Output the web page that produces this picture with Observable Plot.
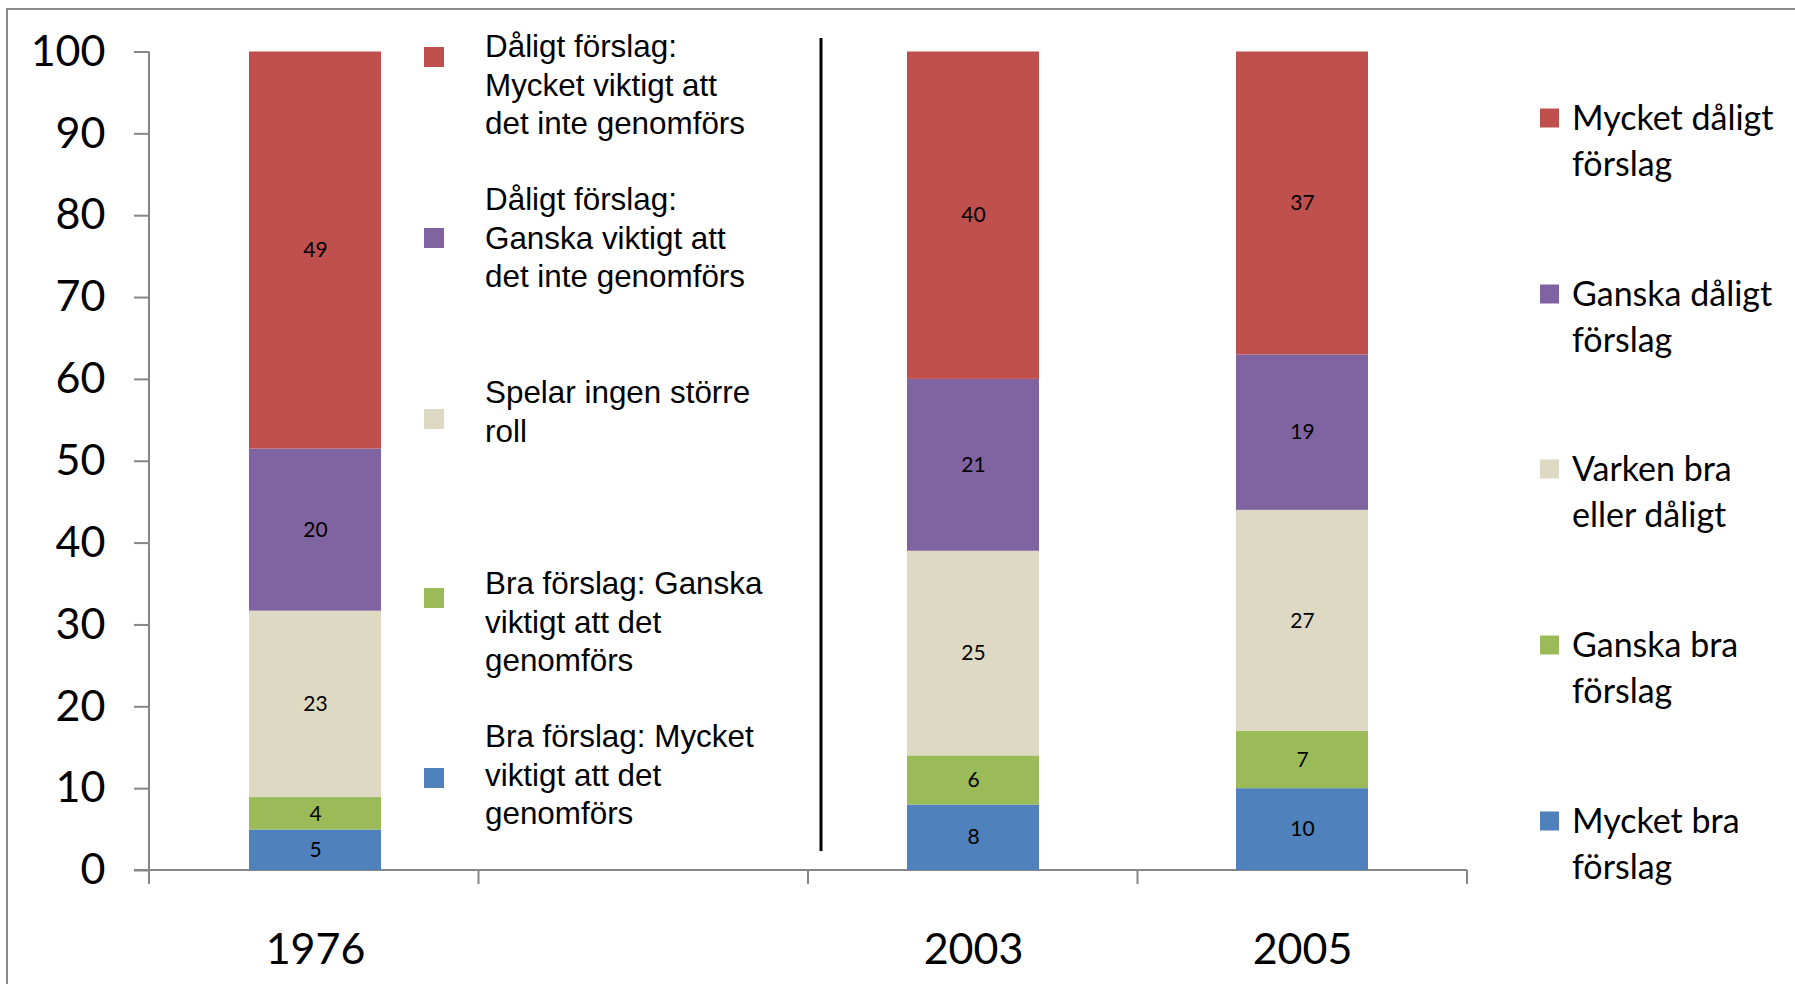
<!DOCTYPE html>
<html><head><meta charset="utf-8">
<script src="https://cdn.jsdelivr.net/npm/d3@7"></script>
<script src="https://cdn.jsdelivr.net/npm/@observablehq/plot@0.6"></script>
<style>
html,body{margin:0;padding:0;background:#fff;}
#chart{position:relative;width:1795px;height:984px;overflow:hidden;}
#chart svg g[aria-label="y-axis tick"]{stroke:#868686;stroke-width:2px;}
</style></head><body><div id="chart"></div>
<script>
// ---- data ----
const years = ["1976", "gap", "2003", "2005"];
const seriesKeys = ["Mycket bra förslag", "Ganska bra förslag", "Varken bra eller dåligt", "Ganska dåligt förslag", "Mycket dåligt förslag"]; // bottom to top
const seriesColors = ["#4F81BD", "#9BBB59", "#DDD9C3", "#8064A2", "#C0504D"];
const values1976 = [5, 4, 23, 20, 49];
const values2003 = [8, 6, 25, 21, 40];
const values2005 = [10, 7, 27, 19, 37];
const yTickLabels = [0, 10, 20, 30, 40, 50, 60, 70, 80, 90, 100];
// legend texts, top to bottom (red, purple, beige, green, blue)
const leftLegendLines = [
  ["Dåligt förslag:", "Mycket viktigt att", "det inte genomförs"],
  ["Dåligt förslag:", "Ganska viktigt att", "det inte genomförs"],
  ["Spelar ingen större", "roll"],
  ["Bra förslag: Ganska", "viktigt att det", "genomförs"],
  ["Bra förslag: Mycket", "viktigt att det", "genomförs"]
];
const rightLegendLines = [
  ["Mycket dåligt", "förslag"],
  ["Ganska dåligt", "förslag"],
  ["Varken bra", "eller dåligt"],
  ["Ganska bra", "förslag"],
  ["Mycket bra", "förslag"]
];
const legendColors = seriesColors.slice().reverse();

const valuesByYear = {"1976": values1976, "2003": values2003, "2005": values2005};
const rows = [];
for (const yr of ["1976", "2003", "2005"]) {
  valuesByYear[yr].forEach((v, i) => rows.push({year: yr, series: seriesKeys[i], value: v}));
}

// ---- layout ----
const W = 1795, H = 984, ML = 149, MR = 328, MT = 51.5, MB = 114;
const PAD_IN = 0.6, PAD_OUT = 0.3;

// left legend layout (pixel positions)
const leftSwatchX = 424, leftTextX = 485, leftSwatch = 20, leftLine = 38.5;
const leftFirstLineY = [46, 199, 392, 583, 736];
const leftSwatchY = [57, 238, 419, 598, 778];
// right legend layout
const rightSwatchX = 1540, rightTextX = 1572, rightSwatch = 19, rightLine = 46;
const rightFirstLineY = [118, 294, 469, 645, 821];

function decor(index, scales, values, dims) {
  const y = scales.y;
  const g = d3.create("svg:g").attr("text-anchor", "start");
  // outer border
  g.append("rect").attr("x", 7).attr("y", 9).attr("width", 2000).attr("height", 2000)
    .attr("fill", "none").attr("stroke", "#8c8c8c").attr("stroke-width", 2);
  const x0 = dims.marginLeft, x1 = dims.width - dims.marginRight;
  const y0 = y(0), y1 = y(1);
  // y-axis line
  g.append("line").attr("x1", x0).attr("x2", x0).attr("y1", y0).attr("y2", y1)
    .attr("stroke", "#868686").attr("stroke-width", 2);
  // x-axis line
  g.append("line").attr("x1", x0 - 15).attr("x2", x1).attr("y1", y0).attr("y2", y0)
    .attr("stroke", "#868686").attr("stroke-width", 2);
  // x ticks at band boundaries
  const step = (x1 - x0) / (years.length - PAD_IN + 2 * PAD_OUT);
  for (let i = 0; i <= years.length; i++) {
    const bx = x0 + i * step;
    g.append("line").attr("x1", bx).attr("x2", bx).attr("y1", y0).attr("y2", y0 + 14)
      .attr("stroke", "#868686").attr("stroke-width", 2);
  }
  // divider between 1976 and 2003
  const dx = x0 + 2 * step + 13;
  g.append("line").attr("x1", dx).attr("x2", dx).attr("y1", 38).attr("y2", 851)
    .attr("stroke", "#000").attr("stroke-width", 3);
  // left legend
  leftLegendLines.forEach((lines, i) => {
    g.append("rect").attr("x", leftSwatchX).attr("y", leftSwatchY[i] - leftSwatch / 2)
      .attr("width", leftSwatch).attr("height", leftSwatch).attr("fill", legendColors[i]);
    lines.forEach((t, j) => {
      g.append("text").attr("x", leftTextX).attr("y", leftFirstLineY[i] + j * leftLine)
        .attr("dy", "0.36em").attr("fill", "#000").attr("text-anchor", "start")
        .style("font-family", "'Liberation Sans', Arial, sans-serif").style("font-size", "31.4px")
        .text(t);
    });
  });
  // right legend
  rightLegendLines.forEach((lines, i) => {
    g.append("rect").attr("x", rightSwatchX).attr("y", rightFirstLineY[i] - rightSwatch / 2)
      .attr("width", rightSwatch).attr("height", rightSwatch).attr("fill", legendColors[i]);
    lines.forEach((t, j) => {
      g.append("text").attr("x", rightTextX).attr("y", rightFirstLineY[i] + j * rightLine)
        .attr("dy", "0.36em").attr("fill", "#000").attr("text-anchor", "start")
        .style("font-family", "Lato, sans-serif").style("font-size", "34px")
        .text(t);
    });
  });
  return g.node();
}

const chart = Plot.plot({
  width: W, height: H,
  marginLeft: ML, marginRight: MR, marginTop: MT, marginBottom: MB,
  style: {fontFamily: "Lato, sans-serif", fontSize: "43px", color: "#000", background: "#fff", overflow: "hidden"},
  x: {domain: years, paddingInner: PAD_IN, paddingOuter: PAD_OUT, tickSize: 0, tickPadding: 63,
      tickFormat: d => d === "gap" ? "" : d, label: null},
  y: {domain: [0, 1], ticks: yTickLabels.map(d => d / 100), tickFormat: d => String(Math.round(d * 100)),
      tickSize: 15, tickPadding: 29, label: null},
  color: {domain: seriesKeys, range: seriesColors},
  marks: [
    decor,
    Plot.barY(rows, Plot.stackY({offset: "normalize", x: "year", y: "value", fill: "series", inset: 0})),
    Plot.text(rows, Plot.stackY({offset: "normalize", x: "year", y: "value", text: d => String(d.value),
      fontSize: 21, fill: "#000", fontFamily: "Lato, sans-serif"}))
  ]
});
document.getElementById("chart").appendChild(chart);
</script>
</body></html>
